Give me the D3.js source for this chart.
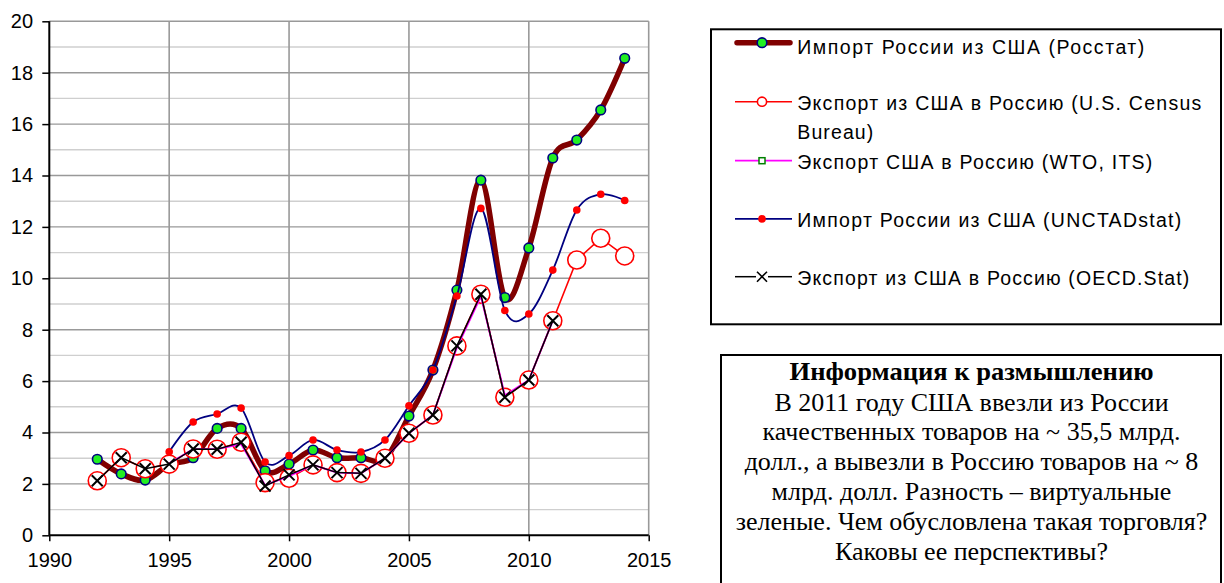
<!DOCTYPE html>
<html><head><meta charset="utf-8">
<script src="https://cdn.jsdelivr.net/npm/d3@7"></script>
<style>
html,body{margin:0;padding:0;background:#fff;}
svg{display:block;}
</style></head>
<body>
<svg id="chart" width="1224" height="583"></svg>
<script>
// ---- data ----
const years = [1992,1993,1994,1995,1996,1997,1998,1999,2000,2001,2002,2003,2004,2005,2006,2007,2008,2009,2010,2011,2012,2013,2014];
const rosstat = [2.96,2.39,2.15,2.75,3.02,4.16,4.16,2.51,2.77,3.32,3.02,3.02,2.97,4.64,6.43,9.54,13.82,9.25,11.18,14.68,15.38,16.55,18.56];
const census = [2.12,3.02,2.59,2.77,3.36,3.35,3.62,2.05,2.22,2.74,2.44,2.41,3.00,3.97,4.68,7.37,9.38,5.37,6.04,8.35,10.71,11.56,10.87];
const wtoYears = [1995,1996,1997,1998,1999,2000,2001,2002,2003,2004,2005,2006,2007,2008,2009,2010,2011];
const wto = [2.80,3.35,3.35,3.55,1.95,2.30,2.74,2.44,2.41,3.00,3.97,4.68,7.30,9.30,5.45,6.04,8.35];
const unctadYears = [1995,1996,1997,1998,1999,2000,2001,2002,2003,2004,2005,2006,2007,2008,2009,2010,2011,2012,2013,2014];
const unctad = [3.25,4.41,4.72,4.95,2.85,3.10,3.71,3.32,3.24,3.71,5.04,6.43,9.31,12.72,8.75,8.61,10.32,12.66,13.27,13.03];
const oecdYears = [1992,1993,1994,1995,1996,1997,1998,1999,2000,2001,2002,2003,2004,2005,2006,2007,2008,2009,2010,2011];
const oecd = [2.12,3.02,2.59,2.77,3.36,3.35,3.62,1.92,2.35,2.74,2.44,2.41,3.00,3.97,4.68,7.37,9.38,5.37,6.04,8.35];
const xTicks = [1990,1995,2000,2005,2010,2015];
const yTicks = [0,2,4,6,8,10,12,14,16,18,20];
const yMinor = [1,3,5,7,9,11,13,15,17,19];
const legendLabels = [
  ["Импорт России из США (Росстат)"],
  ["Экспорт из США в Россию (U.S. Census","Bureau)"],
  ["Экспорт США в Россию (WTO, ITS)"],
  ["Импорт России из США (UNCTADstat)"],
  ["Экспорт из США в Россию (OECD.Stat)"]
];
const noteTitle = "Информация к размышлению";
const noteLines = ["В 2011 году США ввезли из России","качественных товаров на ~ 35,5 млрд.","долл., а вывезли в Россию товаров на ~ 8","млрд. долл. Разность – виртуальные","зеленые. Чем обусловлена такая торговля?","Каковы ее перспективы?"];

// ---- layout ----
const svg = d3.select("#chart");
const x = d3.scaleLinear().domain([1990,2015]).range([49.3,648.7]);
const y = d3.scaleLinear().domain([0,20]).range([535.3,21.3]);
const sansFont = "'Liberation Sans', Arial, sans-serif";

// gridlines
const g = svg.append("g");
g.selectAll(".minor").data(yMinor).join("line")
  .attr("x1",x(1990)).attr("x2",x(2015)).attr("y1",d=>y(d)).attr("y2",d=>y(d))
  .attr("stroke","#cfcfcf").attr("stroke-width",1.4);
g.selectAll(".major").data(yTicks.filter(d=>d>0)).join("line")
  .attr("x1",x(1990)).attr("x2",x(2015)).attr("y1",d=>y(d)).attr("y2",d=>y(d))
  .attr("stroke","#999").attr("stroke-width",1.4);
g.selectAll(".vg").data(xTicks.filter(d=>d>1990)).join("line")
  .attr("x1",d=>x(d)).attr("x2",d=>x(d)).attr("y1",y(0)).attr("y2",y(20))
  .attr("stroke","#999").attr("stroke-width",1.6);

// axes
const ax = svg.append("g").attr("transform",`translate(${x(1990)},0)`)
  .call(d3.axisLeft(y).tickValues(yTicks).tickSize(7).tickPadding(9.3).tickFormat(d3.format("d")));
const bx = svg.append("g").attr("transform",`translate(0,${y(0)})`)
  .call(d3.axisBottom(x).tickValues(xTicks).tickSize(6).tickPadding(11.8).tickFormat(d3.format("d")));
[ax,bx].forEach(a=>{
  a.select(".domain").attr("stroke","#000").attr("stroke-width",2);
  a.selectAll(".tick line").attr("stroke","#000").attr("stroke-width",1.5);
  a.selectAll("text").attr("font-family",sansFont).attr("font-size",20).attr("fill","#000");
});
bx.select(".domain").attr("d",`M${x(1990)},0H${x(2015)}`);
ax.select(".domain").attr("d",`M0,${y(0)}V${y(20)}`);

// series
const smooth = d3.curveCardinal.tension(0);
function lineGen(xs, vs, curve){
  return d3.line().x((d,i)=>x(xs[i])).y(d=>y(d)).curve(curve)(vs);
}
const plot = svg.append("g");
// Rosstat
plot.append("path").attr("d",lineGen(years,rosstat,smooth))
  .attr("fill","none").attr("stroke","#800000").attr("stroke-width",5.5)
  .attr("stroke-linejoin","round").attr("stroke-linecap","round");
plot.selectAll(".ros").data(rosstat).join("circle")
  .attr("cx",(d,i)=>x(years[i])).attr("cy",d=>y(d)).attr("r",4.8)
  .attr("fill","#22ee22").attr("stroke","#000080").attr("stroke-width",1.6);
// Census
plot.append("path").attr("d",lineGen(years,census,d3.curveLinear))
  .attr("fill","none").attr("stroke","#ff0000").attr("stroke-width",1.6);
plot.selectAll(".cen").data(census).join("circle")
  .attr("cx",(d,i)=>x(years[i])).attr("cy",d=>y(d)).attr("r",9)
  .attr("fill","#fff").attr("stroke","#ff0000").attr("stroke-width",1.6);
// WTO
plot.append("path").attr("d",lineGen(wtoYears,wto,d3.curveLinear))
  .attr("fill","none").attr("stroke","#ff00ff").attr("stroke-width",1.8);
// UNCTAD
plot.append("path").attr("d",lineGen(unctadYears,unctad,smooth))
  .attr("fill","none").attr("stroke","#000080").attr("stroke-width",1.8);
plot.selectAll(".unc").data(unctad).join("circle")
  .attr("cx",(d,i)=>x(unctadYears[i])).attr("cy",d=>y(d)).attr("r",3.8)
  .attr("fill","#ff0000");
// OECD
plot.append("path").attr("d",lineGen(oecdYears,oecd,d3.curveLinear))
  .attr("fill","none").attr("stroke","#000").attr("stroke-width",1.5);
const xMark = "M-5.5,-5.5L5.5,5.5M-5.5,5.5L5.5,-5.5";
plot.selectAll(".oecd").data(oecd).join("path")
  .attr("transform",(d,i)=>`translate(${x(oecdYears[i])},${y(d)})`)
  .attr("d",xMark).attr("stroke","#000").attr("stroke-width",2).attr("fill","none");

// ---- legend ----
const lg = svg.append("g");
lg.append("rect").attr("x",711).attr("y",29.3).attr("width",510).attr("height",295)
  .attr("fill","#fff").attr("stroke","#000").attr("stroke-width",2);
const rowY = [42.7,101.7,160.7,218.9,276.7];
const baseY = [[54],[110,139],[169],[227.3],[285]];
const widths = [[347],[404],[355],[384],[392]];
const wBureau = 76;
const lx1 = 735, lx2 = 792, mx = 762;
// sample 1
lg.append("line").attr("x1",lx1+2).attr("x2",lx2-2).attr("y1",rowY[0]).attr("y2",rowY[0])
  .attr("stroke","#800000").attr("stroke-width",5.5).attr("stroke-linecap","round");
lg.append("circle").attr("cx",mx).attr("cy",rowY[0]).attr("r",4.8)
  .attr("fill","#22ee22").attr("stroke","#000080").attr("stroke-width",1.6);
// sample 2
lg.append("line").attr("x1",lx1).attr("x2",lx2).attr("y1",rowY[1]).attr("y2",rowY[1])
  .attr("stroke","#ff0000").attr("stroke-width",1.6);
lg.append("circle").attr("cx",mx).attr("cy",rowY[1]).attr("r",4.6)
  .attr("fill","#fff").attr("stroke","#ff0000").attr("stroke-width",1.6);
// sample 3
lg.append("line").attr("x1",lx1).attr("x2",lx2).attr("y1",rowY[2]).attr("y2",rowY[2])
  .attr("stroke","#ff00ff").attr("stroke-width",1.8);
lg.append("rect").attr("x",mx-3).attr("y",rowY[2]-3).attr("width",6).attr("height",6)
  .attr("fill","#fff").attr("stroke","#008000").attr("stroke-width",1.5);
// sample 4
lg.append("line").attr("x1",lx1).attr("x2",lx2).attr("y1",rowY[3]).attr("y2",rowY[3])
  .attr("stroke","#000080").attr("stroke-width",1.8);
lg.append("circle").attr("cx",mx).attr("cy",rowY[3]).attr("r",3.8).attr("fill","#ff0000");
// sample 5
lg.append("line").attr("x1",lx1).attr("x2",mx-6).attr("y1",rowY[4]).attr("y2",rowY[4])
  .attr("stroke","#000").attr("stroke-width",1.5);
lg.append("line").attr("x1",mx+6).attr("x2",lx2).attr("y1",rowY[4]).attr("y2",rowY[4])
  .attr("stroke","#000").attr("stroke-width",1.5);
lg.append("path").attr("transform",`translate(${mx},${rowY[4]})`)
  .attr("d","M-5,-5L5,5M-5,5L5,-5").attr("stroke","#000").attr("stroke-width",1.6);
legendLabels.forEach((lines,i)=>{
  lines.forEach((t,j)=>{
    lg.append("text").attr("x",797.3).attr("y",baseY[i][j])
      .attr("font-family",sansFont).attr("font-size",19.5).attr("fill","#000")
      .attr("textLength", j===0 ? widths[i][0] : wBureau).attr("lengthAdjust","spacing")
      .text(t);
  });
});

// ---- note box ----
const nb = svg.append("g");
nb.append("rect").attr("x",721).attr("y",355).attr("width",500).attr("height",240)
  .attr("fill","#fff").attr("stroke","#000").attr("stroke-width",2);
const serif = "'Liberation Serif', 'Times New Roman', serif";
nb.append("text").attr("x",971.5).attr("y",380).attr("text-anchor","middle")
  .attr("font-family",serif).attr("font-size",26).attr("font-weight","bold")
  .attr("textLength",364).attr("lengthAdjust","spacingAndGlyphs").text(noteTitle);
noteLines.forEach((t,i)=>{
  nb.append("text").attr("x",971.5).attr("y",410.5+29.8*i).attr("text-anchor","middle")
    .attr("font-family",serif).attr("font-size",26).text(t);
});
</script>
</body></html>
